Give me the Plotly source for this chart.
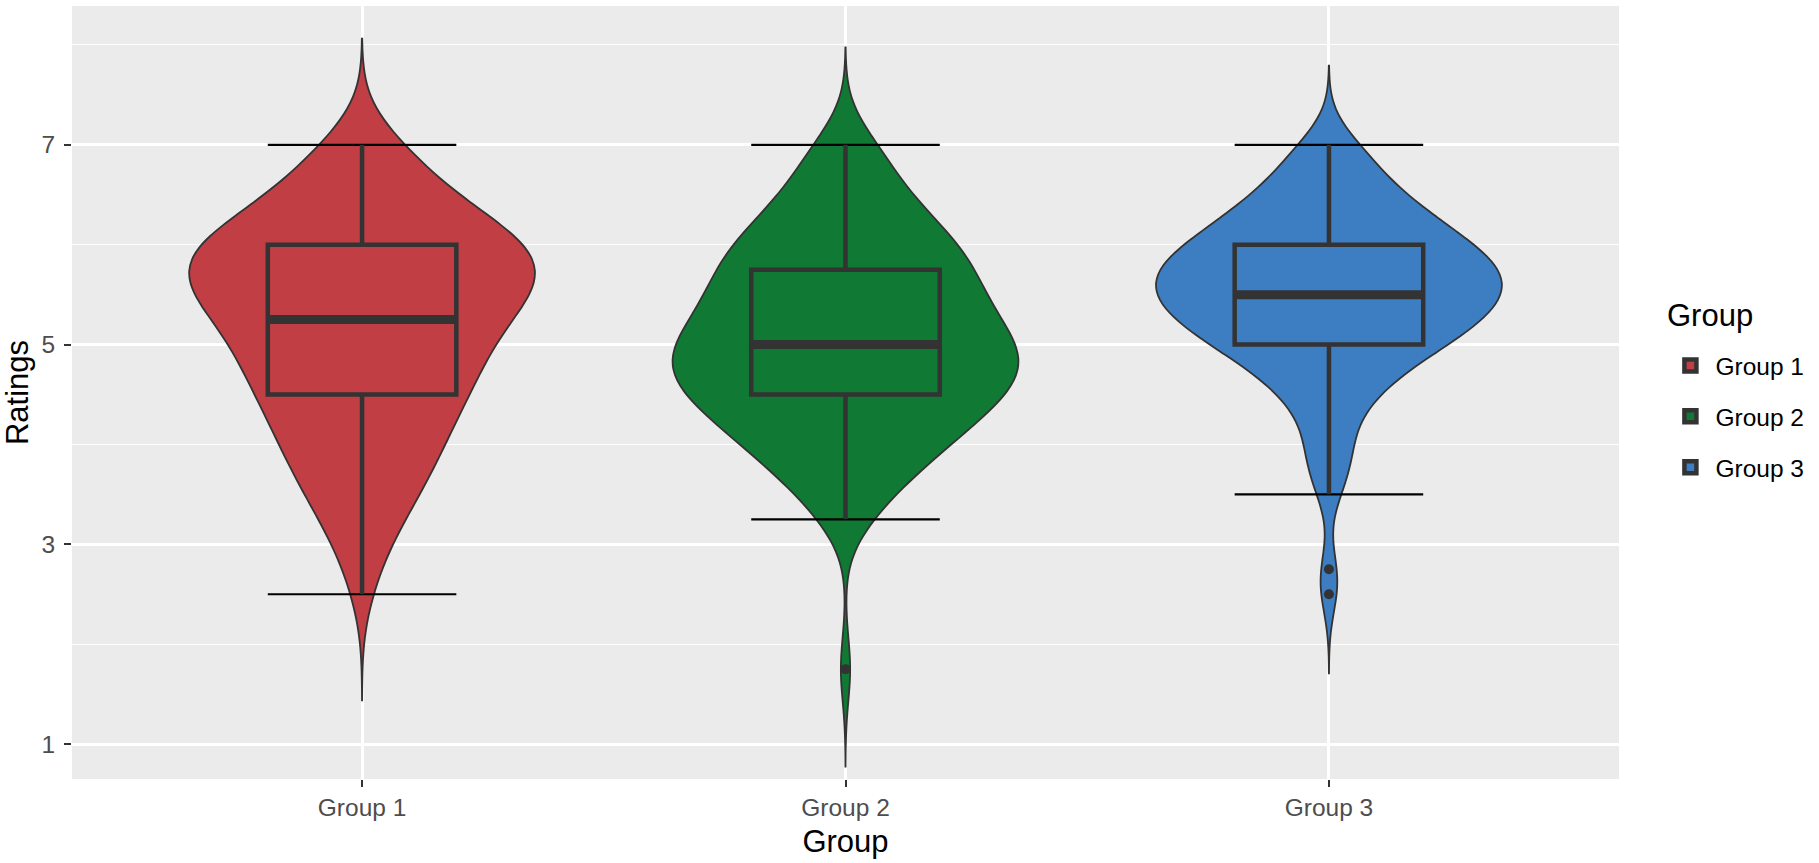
import numpy as np
import plotly.graph_objects as go

# ---------------- data ----------------
groups = ["Group 1", "Group 2", "Group 3"]
colors = ["#C03E44", "#107A35", "#3D7EC3"]

rating_levels = [1.75, 2.0, 2.25, 2.5, 2.75, 3.0, 3.25, 3.5, 3.75, 4.0, 4.25,
                 4.5, 4.75, 5.0, 5.25, 5.5, 5.75, 6.0, 6.25, 6.5, 6.75, 7.0]
counts_group1 = [0, 0, 0, 1, 1, 2, 3, 4, 5, 6, 6, 8, 8, 9, 10, 12, 14, 13, 9, 6, 4, 4]
counts_group2 = [1, 0, 0, 0, 0, 0, 2, 3, 5, 7, 9, 11, 13, 12, 10, 9, 9, 8, 6, 4, 3, 3]
counts_group3 = [0, 0, 0, 1, 1, 0, 0, 1, 2, 2, 2, 4, 6, 10, 13, 15, 15, 12, 9, 6, 4, 3]
y_ticks = [1, 3, 5, 7]
y_minor = [2, 4, 6, 8]

samples = [np.repeat(rating_levels, c) for c in (counts_group1, counts_group2, counts_group3)]


def nrd0(x):
    x = np.asarray(x, dtype=float)
    sd = np.std(x, ddof=1)
    q75, q25 = np.percentile(x, [75, 25])
    lo = min(sd, (q75 - q25) / 1.34)
    return 0.9 * lo * len(x) ** -0.2


VIOLIN_W = 0.715
BOX_W = 0.39
DARK = "#333333"
TICK_SIZE = 24.5
TITLE_SIZE = 31

fig = go.Figure()

for i, (g, col, y) in enumerate(zip(groups, colors, samples), start=1):
    bw = nrd0(y)
    fig.add_trace(go.Violin(
        y=y, x0=i, name=g, orientation="v",
        bandwidth=bw, spanmode="manual", span=[y.min() - 3 * bw, y.max() + 3 * bw],
        scalemode="width", width=VIOLIN_W,
        fillcolor=col, opacity=1, line=dict(color=DARK, width=1.8),
        points=False, box_visible=False, meanline_visible=False,
        showlegend=False, hoverinfo="skip",
    ))

for i, (g, col, y) in enumerate(zip(groups, colors, samples), start=1):
    # thin error-bar style whiskers with caps
    fig.add_trace(go.Box(
        y=y, x0=i, name=g, width=BOX_W, whiskerwidth=1,
        line=dict(color="black", width=2.2), fillcolor="rgba(0,0,0,0)",
        boxpoints="outliers", pointpos=0, jitter=0,
        marker=dict(opacity=0, size=1),
        showlegend=False, hoverinfo="skip",
    ))
    # thick box
    fig.add_trace(go.Box(
        y=y, x0=i, name=g, width=BOX_W, whiskerwidth=0,
        line=dict(color=DARK, width=4.5), fillcolor=col,
        boxpoints="outliers", pointpos=0, jitter=0,
        marker=dict(color=DARK, size=10, line=dict(width=0)),
        showlegend=True, legendgroup=g,
    ))

for i, y in enumerate(samples, start=1):
    med = float(np.quantile(y, 0.5))
    fig.add_trace(go.Scatter(
        x=[i - BOX_W / 2, i + BOX_W / 2], y=[med, med], mode="lines",
        line=dict(color=DARK, width=9), showlegend=False, hoverinfo="skip",
    ))

fig.update_layout(
    width=1819, height=863,
    margin=dict(l=72, r=200, t=6, b=84),
    plot_bgcolor="#EBEBEB", paper_bgcolor="white",
    font=dict(family="Liberation Sans, Arial, sans-serif", color="#4D4D4D", size=TICK_SIZE),
    boxmode="overlay", violinmode="overlay",
    legend=dict(
        x=1.03, y=0.564, xanchor="left", yanchor="top",
        font=dict(size=TICK_SIZE, color="black"), tracegroupgap=16,
        itemwidth=40, bgcolor="rgba(0,0,0,0)",
    ),
    annotations=[dict(
        text="Group", x=1.0298, y=0.599, xref="paper", yref="paper",
        xanchor="left", yanchor="middle", showarrow=False,
        font=dict(size=TITLE_SIZE, color="black"),
    )],
)
fig.update_xaxes(
    range=[0.4, 3.6], tickvals=[1, 2, 3], ticktext=groups,
    showgrid=True, gridcolor="white", gridwidth=2.8, zeroline=False,
    ticks="outside", ticklen=7, tickwidth=2, tickcolor=DARK,
    tickfont=dict(size=TICK_SIZE, color="#4D4D4D"),
    title=dict(text="Group", font=dict(size=TITLE_SIZE, color="black"), standoff=9),
)
fig.update_yaxes(
    range=[0.65, 8.39], tickvals=y_ticks,
    showgrid=True, gridcolor="white", gridwidth=2.8, zeroline=False,
    ticks="outside", ticklen=7, tickwidth=2, tickcolor=DARK,
    tickfont=dict(size=TICK_SIZE, color="#4D4D4D"), ticklabelstandoff=4,
    minor=dict(tickvals=y_minor, showgrid=True, gridcolor="white", gridwidth=1.4, ticks=""),
    title=dict(text="Ratings", font=dict(size=TITLE_SIZE, color="black"), standoff=6),
)

fig.write_html("out.html", config={"displayModeBar": False},
               post_script="document.body.style.margin='0';")
